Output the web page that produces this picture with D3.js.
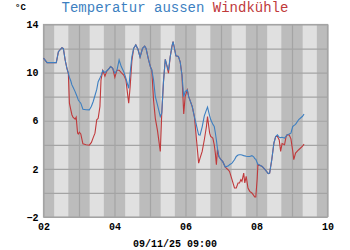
<!DOCTYPE html>
<html><head><meta charset="utf-8">
<script src="https://cdn.jsdelivr.net/npm/d3@7"></script>
<style>html,body{margin:0;padding:0;background:#fff;}svg{display:block;}</style>
</head><body>
<svg id="chart" width="350" height="250"></svg>
<script>
const times = [2.00,2.10,2.36,2.42,2.52,2.56,2.61,2.66,2.70,2.73,2.77,2.80,2.83,2.89,2.92,2.96,2.98,3.01,3.05,3.11,3.20,3.29,3.35,3.40,3.45,3.50,3.54,3.59,3.62,3.67,3.73,3.78,3.83,3.89,3.95,4.01,4.07,4.13,4.19,4.26,4.32,4.40,4.44,4.49,4.54,4.60,4.66,4.72,4.79,4.85,4.89,4.96,5.01,5.05,5.10,5.15,5.21,5.29,5.33,5.38,5.43,5.47,5.52,5.57,5.62,5.65,5.68,5.73,5.80,5.85,5.90,5.95,5.99,6.05,6.09,6.19,6.25,6.31,6.37,6.41,6.47,6.53,6.59,6.62,6.68,6.71,6.77,6.81,6.84,6.87,6.90,6.94,7.00,7.05,7.12,7.21,7.24,7.31,7.38,7.43,7.48,7.52,7.56,7.59,7.64,7.67,7.71,7.76,7.81,7.87,7.92,7.95,7.98,8.02,8.04,8.16,8.26,8.33,8.37,8.43,8.49,8.54,8.59,8.64,8.68,8.72,8.79,8.83,8.86,8.92,8.97,9.02,9.05,9.10,9.19,9.29,9.34];
const temperature = [11.2,10.83,10.83,11.74,12.07,12.0,11.05,10.36,9.95,9.6,9.3,8.98,8.8,8.42,8.2,7.9,7.73,7.6,7.46,6.96,6.92,6.9,7.2,7.6,8.1,8.6,9.25,9.55,9.75,10.17,10.0,10.15,10.28,10.5,10.36,9.95,10.2,11.05,10.5,10.08,9.53,8.7,9.95,11.33,12.02,12.3,11.94,11.28,12.02,12.2,12.0,11.05,10.5,10.22,9.4,8.0,7.32,6.35,6.63,9.25,11.1,10.64,10.2,11.33,12.2,12.57,12.15,11.4,11.35,10.9,9.8,8.0,8.42,8.56,8.0,7.18,6.35,5.6,4.83,4.8,5.5,6.4,6.9,7.13,6.4,6.1,5.7,5.52,5.0,4.4,3.7,3.03,2.76,2.6,2.15,2.25,2.35,2.48,2.76,3.03,3.15,3.17,3.17,3.15,3.1,3.08,3.05,3.03,3.03,3.1,3.0,2.85,2.8,2.5,2.38,2.2,1.87,1.6,1.65,2.76,4.14,4.69,4.83,4.63,4.6,4.63,4.56,4.7,4.83,4.9,4.97,5.52,5.6,5.7,6.1,6.35,6.55];
const windchill = [11.2,10.83,10.83,11.74,12.07,12.0,11.05,10.36,9.95,7.46,6.9,6.5,6.3,6.13,6.3,4.97,4.9,5.05,4.9,4.08,4.0,3.97,4.2,4.6,4.97,6.08,6.2,7.18,9.4,10.17,9.7,10.1,10.28,10.5,10.36,9.6,10.2,10.2,10.0,9.8,9.4,7.46,8.8,11.0,12.02,12.3,11.94,11.28,12.02,12.2,12.0,11.05,10.5,10.22,7.7,6.2,5.2,3.45,6.5,9.25,11.1,10.64,9.95,11.33,12.2,12.57,12.15,11.4,11.35,10.9,9.8,6.57,8.0,8.56,8.0,7.18,6.35,4.42,2.48,2.9,3.45,4.42,5.52,6.35,4.97,4.7,4.56,4.0,3.31,2.34,3.6,3.03,2.76,2.6,2.15,1.9,1.79,1.1,0.41,0.41,0.83,0.83,1.1,0.97,1.65,0.83,1.38,0.41,0.13,0.0,-0.2,-0.34,-0.34,1.2,2.38,2.2,1.87,1.6,1.65,2.76,4.14,4.69,4.7,4.4,3.45,4.1,4.0,4.63,4.83,4.83,4.5,3.5,2.76,3.31,3.59,3.86,4.06];
const days = [2,3,4,5,6,7,8,9];
const daylight = [0.30,0.70];
const xTicks = [2,4,6,8,10];
const yTicks = [14,10,6,2,-2];
const seriesNames = ["Temperatur aussen","Windkühle"];
const unitLabel = "°C";
const stamp = "09/11/25 09:00";

const svg = d3.select("#chart");
const L = 43.5, R = 327.5, T = 24.5, B = 217;
const x = d3.scaleLinear().domain([2,10]).range([L,R]);
const y = d3.scaleLinear().domain([-2,14]).range([B,T]);
const blue = "#3d7fc1", red = "#c0393b";
const font = "'Liberation Mono','DejaVu Sans Mono',monospace";

svg.append("rect").attr("x",L).attr("y",T).attr("width",R-L).attr("height",B-T).attr("fill","#bcbcbc");
svg.append("g").selectAll("rect").data(days).join("rect")
  .attr("x",d=>x(d+daylight[0])).attr("y",T)
  .attr("width",d=>x(d+daylight[1])-x(d+daylight[0])).attr("height",B-T)
  .attr("fill","#e0e0e0");

const gx = svg.append("g").attr("transform",`translate(0,${B})`)
  .call(d3.axisBottom(x).tickValues(d3.range(2,11)).tickSize(-(B-T)).tickFormat(""));
const gy = svg.append("g").attr("transform",`translate(${L},0)`)
  .call(d3.axisLeft(y).tickValues(d3.range(-2,15,2)).tickSize(-(R-L)).tickFormat(""));
[gx,gy].forEach(g=>{g.select(".domain").remove();g.selectAll("line").attr("stroke","#a4a4a4").attr("stroke-width",1.2);});
svg.append("rect").attr("x",L).attr("y",T).attr("width",R-L).attr("height",B-T)
  .attr("fill","none").attr("stroke","#a4a4a4").attr("stroke-width",1.2);

const pts = (vals)=>times.map((t,i)=>[t,vals[i]]);
const line = d3.line().x(d=>x(d[0])).y(d=>y(d[1]));
svg.append("path").attr("d",line(pts(windchill))).attr("fill","none").attr("stroke",red).attr("stroke-width",1.1);
svg.append("path").attr("d",line(pts(temperature))).attr("fill","none").attr("stroke",blue).attr("stroke-width",1.1);

const ax = svg.append("g").attr("transform",`translate(0,${B})`)
  .call(d3.axisBottom(x).tickValues(xTicks).tickSize(0).tickPadding(6).tickFormat(d3.format("02d")));
const ay = svg.append("g").attr("transform",`translate(${L},0)`)
  .call(d3.axisLeft(y).tickValues(yTicks).tickSize(0).tickPadding(5));
[ax,ay].forEach(g=>{g.select(".domain").remove();g.selectAll("text").attr("font-family",font).attr("font-size",10).attr("font-weight","bold").attr("fill","#000");});

const title = svg.append("text").attr("x",175).attr("y",12).attr("text-anchor","middle")
  .attr("font-family",font).attr("font-size",14);
title.append("tspan").attr("fill",blue).text(seriesNames[0]+" ");
title.append("tspan").attr("fill",red).text(seriesNames[1]);

svg.append("text").attr("x",15).attr("y",10).attr("font-family",font).attr("font-size",9).attr("font-weight","bold").text(unitLabel);
svg.append("text").attr("x",175).attr("y",247).attr("text-anchor","middle").attr("font-family",font).attr("font-size",10).attr("font-weight","bold").text(stamp);
</script>
</body></html>
